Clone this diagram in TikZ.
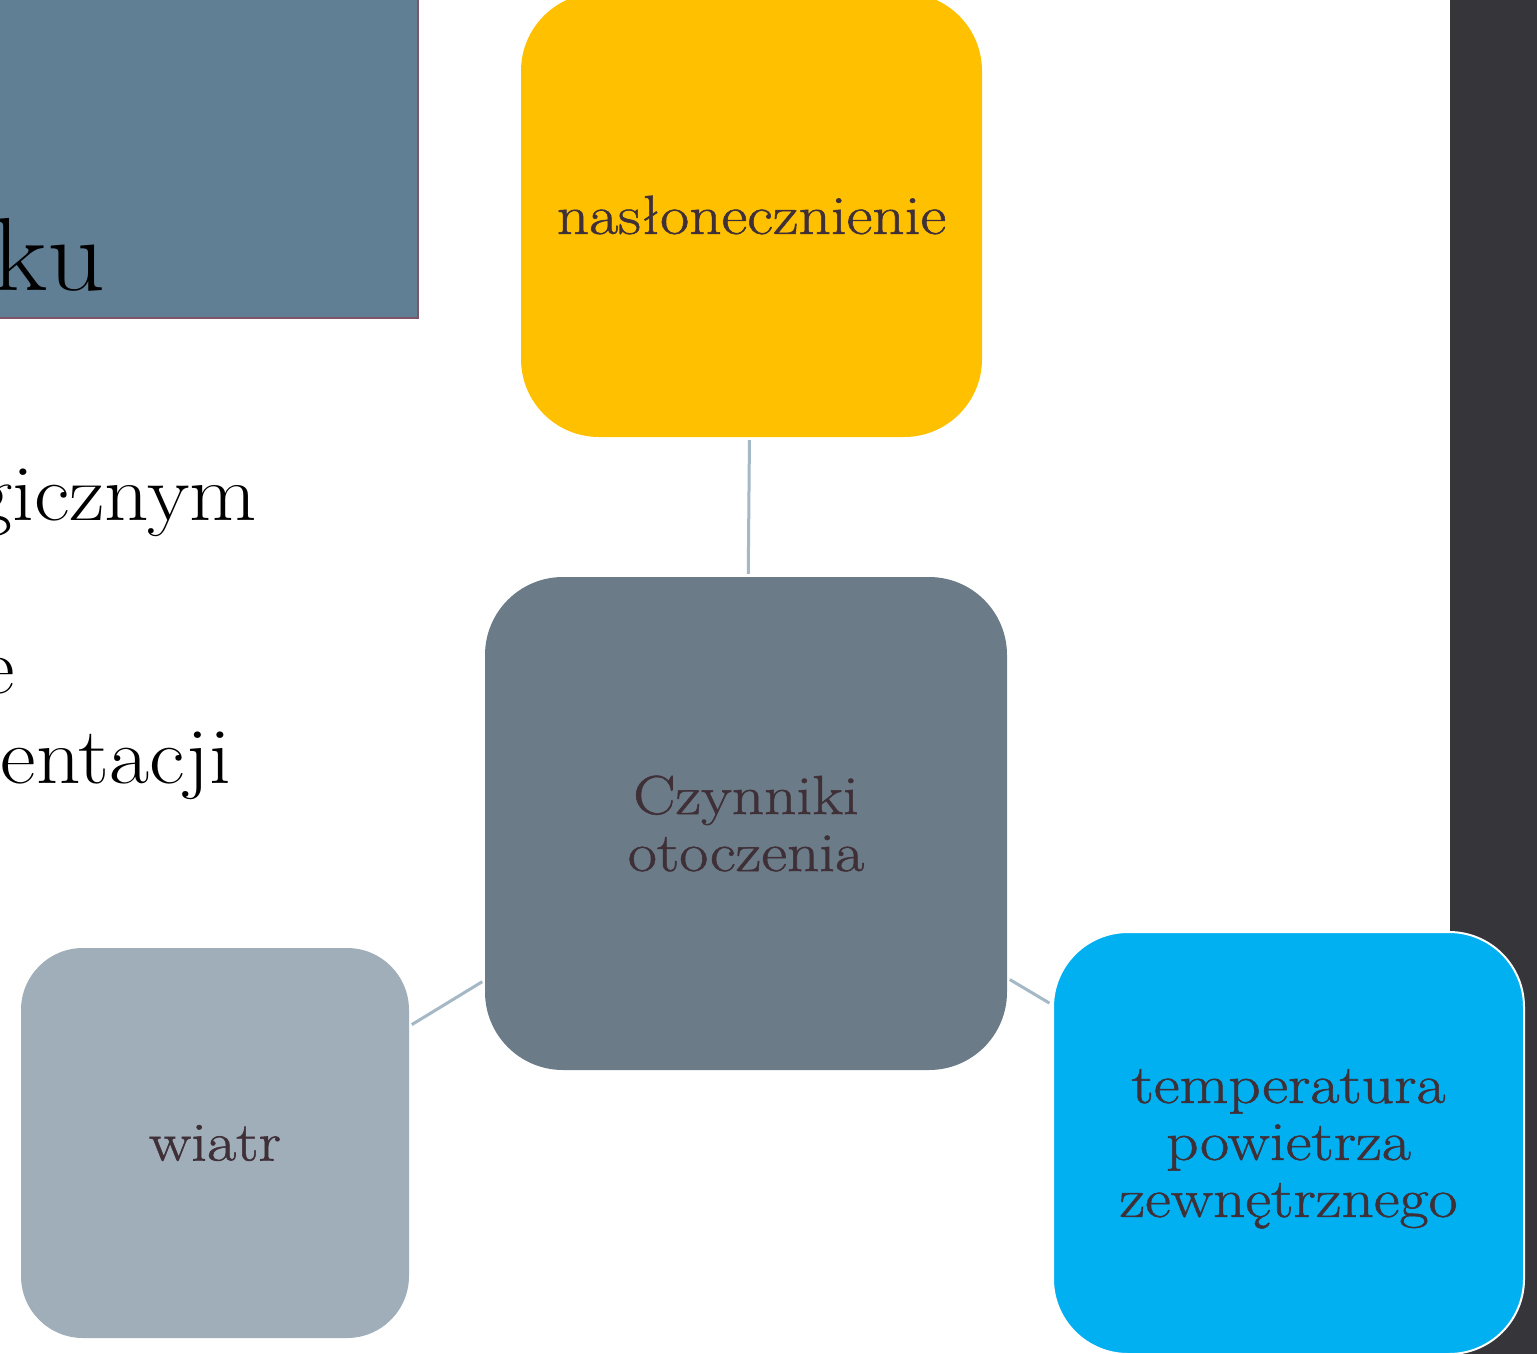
\documentclass[tikz,border=0pt]{standalone}
\usepackage{fontspec}
\setmainfont{Latin Modern Roman}[FakeStretch=1.09]
\newfontfamily\boxfont{Latin Modern Roman}[FakeStretch=1.15, FakeBold=1]
\usepackage{tikz}

\definecolor{titleblue}{HTML}{607F95}
\definecolor{titleedge}{HTML}{7E5468}
\definecolor{darkbar}{HTML}{36363A}
\definecolor{sunyellow}{HTML}{FFC000}
\definecolor{coregray}{HTML}{6B7B88}
\definecolor{windgray}{HTML}{A0AEB9}
\definecolor{tempblue}{HTML}{00B0F0}
\definecolor{linkgray}{HTML}{A5B8C6}
\definecolor{boxtext}{HTML}{3F3038}

\begin{document}
\begin{tikzpicture}[x=1pt, y=-1pt]
	\useasboundingbox (0,0) rectangle (1537,1354);
	\fill [white] (0,0) rectangle (1537,1354);
	\fill [darkbar] (1450,0) rectangle (1537,1354);
	% slide text, cut at the left edge
	\begin{scope}[every node/.style = {inner sep=0pt, text=black}]
		\node [rectangle, fill=titleblue, draw=titleedge, line width=1.5pt,
			minimum width=430pt, minimum height=330pt] (title) at (203,153) {};
		\node [anchor=base east, font=\fontsize{104}{120}\selectfont] (ku) at (106,290) {ku};
		\node [anchor=base east, font=\fontsize{80}{94}\selectfont] (line1) at (257,520) {gicznym};
		\node [anchor=base east, font=\fontsize{80}{94}\selectfont] (line2) at (15,693) {e};
		\node [anchor=base east, font=\fontsize{80}{94}\selectfont] (line3) at (231,783) {entacji};
	\end{scope}
	\begin{scope}[every node/.style = {rectangle, rounded corners=78pt, align=center,
			text=boxtext, font=\boxfont\fontsize{55}{57}\selectfont}]
		\node [fill=sunyellow, minimum width=461pt, minimum height=444pt] (sun) at (751.5,215) {nasłonecznienie};
		\node [fill=coregray, minimum width=522pt, minimum height=493pt] (core) at (746,823.5) {Czynniki\\otoczenia};
		\node [fill=windgray, rounded corners=62pt, minimum width=388pt, minimum height=390pt] (wind) at (215,1143) {wiatr};
		\node [fill=tempblue, draw=white, line width=2pt, rounded corners=75pt,
			minimum width=471pt, minimum height=422pt, text depth=-4pt] (temp) at (1288.5,1143) {temperatura\\powietrza\\zewnętrznego};
	\end{scope}
	\begin{scope}[every path/.style = {draw=linkgray, line width=3pt,
			shorten <=3pt, shorten >=3pt}]
		\path (sun) -- (core);
		\path (wind) -- (core);
		\path (core) -- (temp);
	\end{scope}
\end{tikzpicture}
\end{document}
